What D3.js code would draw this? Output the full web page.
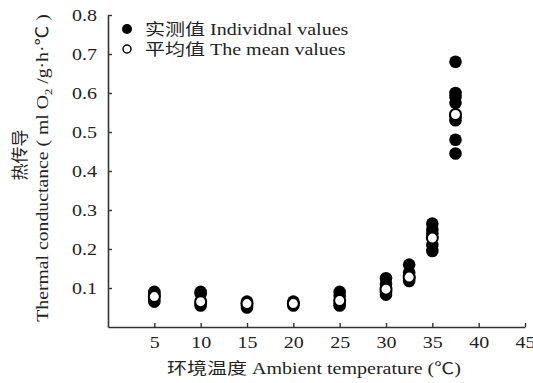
<!DOCTYPE html>
<html>
<head>
<meta charset="utf-8">
<script src="https://cdn.jsdelivr.net/npm/d3@7"></script>
<style>
  body { margin: 0; background: #fff; }
  svg text { font-family: "Liberation Serif", "Noto Sans CJK SC", serif; fill: #222; }
</style>
</head>
<body>
<script>
// Ambient temperature (℃) for each group
const temps = [5, 10, 15, 20, 25, 30, 32.5, 35, 37.5];
// Individual thermal conductance values per temperature
const individual = [
  [0.09, 0.085, 0.08, 0.07, 0.065],
  [0.09, 0.085, 0.06, 0.055],
  [0.065, 0.06, 0.055, 0.05],
  [0.065, 0.06, 0.055],
  [0.09, 0.08, 0.06, 0.055],
  [0.125, 0.11, 0.09, 0.083],
  [0.16, 0.14, 0.125, 0.118],
  [0.265, 0.25, 0.24, 0.21, 0.195],
  [0.68, 0.60, 0.59, 0.575, 0.54, 0.53, 0.48, 0.445]
];
// Mean values per temperature
const means = [0.078, 0.065, 0.06, 0.06, 0.068, 0.097, 0.128, 0.228, 0.545];
const xTicks = [5, 10, 15, 20, 25, 30, 35, 40, 45];
const yTicks = [0.1, 0.2, 0.3, 0.4, 0.5, 0.6, 0.7, 0.8];

const width = 533, height = 383;
const margin = {left: 108, right: 8, top: 15, bottom: 56};
const fs = 16;      // base font size
const sx = 1.25;    // the original figure is stretched horizontally

const svg = d3.select("body").append("svg")
    .attr("width", width)
    .attr("height", height);

// widen horizontal text to match the stretched look
function stretch(sel) {
  sel.each(function() {
    const len = this.getComputedTextLength();
    d3.select(this).attr("textLength", len * sx).attr("lengthAdjust", "spacingAndGlyphs");
  });
}

const x = d3.scaleLinear().domain([0, 45]).range([margin.left, width - margin.right]);
const y = d3.scaleLinear().domain([0, 0.8]).range([height - margin.bottom, margin.top]);

// Axes with inward ticks
const xAxis = svg.append("g")
    .attr("transform", `translate(0,${y(0)})`)
    .call(d3.axisBottom(x).tickValues(xTicks).tickSizeInner(-4).tickSizeOuter(0).tickPadding(10));
const yAxis = svg.append("g")
    .attr("transform", `translate(${x(0)},0)`)
    .call(d3.axisLeft(y).tickValues(yTicks).tickSizeInner(-4).tickSizeOuter(0).tickPadding(11).tickFormat(d3.format(".1f")));

[xAxis, yAxis].forEach(g => {
  g.select(".domain").attr("stroke", "#333").attr("stroke-width", 1.6);
  g.selectAll(".tick line").attr("stroke", "#333").attr("stroke-width", 1.4);
  g.selectAll("text").attr("font-size", fs).attr("font-family", "Liberation Serif").attr("fill", "#222").call(stretch);
});

// Individual points (filled)
const pts = [];
temps.forEach((t, i) => individual[i].forEach(v => pts.push({t, v})));
svg.append("g").selectAll("circle")
  .data(pts)
  .join("circle")
    .attr("cx", d => x(d.t))
    .attr("cy", d => y(d.v))
    .attr("r", 6.3)
    .attr("fill", "#000");

// Mean points (open)
svg.append("g").selectAll("circle")
  .data(temps.map((t, i) => ({t, v: means[i]})))
  .join("circle")
    .attr("cx", d => x(d.t))
    .attr("cy", d => y(d.v))
    .attr("r", 5.5)
    .attr("fill", "#fff")
    .attr("stroke", "#000")
    .attr("stroke-width", 2);

// Legend
const legend = svg.append("g").attr("font-size", fs);
legend.append("circle").attr("cx", 127).attr("cy", 29).attr("r", 5).attr("fill", "#000");
legend.append("circle").attr("cx", 127).attr("cy", 49).attr("r", 4).attr("fill", "#fff").attr("stroke", "#000").attr("stroke-width", 1.5);
legend.append("text").attr("x", 145).attr("y", 35).text("实测值 Individnal values").call(stretch);
legend.append("text").attr("x", 145).attr("y", 55).text("平均值 The mean values").call(stretch);

// Axis titles
svg.append("text")
    .attr("x", 314).attr("y", 374)
    .attr("text-anchor", "middle")
    .attr("font-size", fs)
    .text("环境温度  Ambient temperature (℃)")
    .call(stretch);

svg.append("text")
    .attr("transform", "translate(26,155) rotate(-90)")
    .attr("text-anchor", "middle")
    .attr("font-size", 17)
    .text("热传导");

const yl = svg.append("text")
    .attr("transform", "translate(48,168) rotate(-90) scale(1.16,1)")
    .attr("text-anchor", "middle")
    .attr("font-size", 17);
yl.append("tspan").text("Thermal conductance ( ml O");
yl.append("tspan").attr("font-size", 11).attr("dy", 4).text("2");
yl.append("tspan").attr("dy", -4).text(" /g·h·℃ )");
</script>
</body>
</html>
